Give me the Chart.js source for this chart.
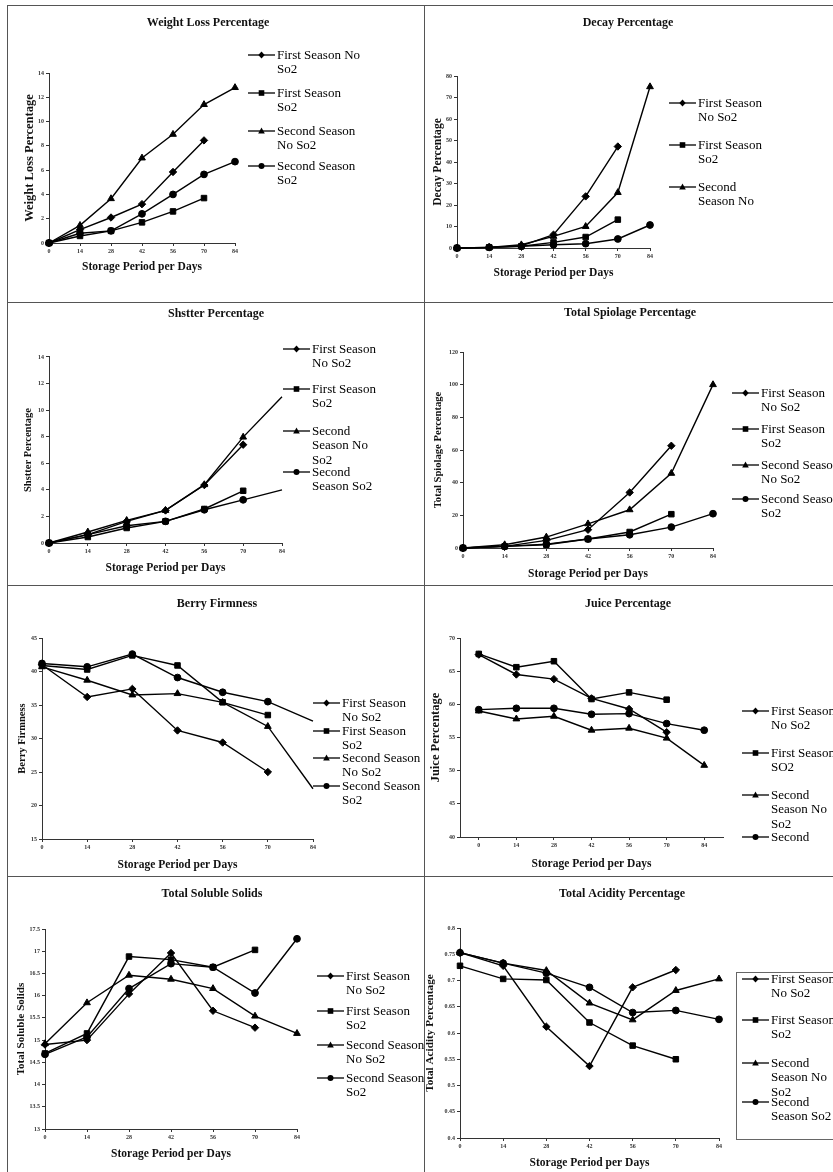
<!DOCTYPE html>
<html>
<head>
<meta charset="utf-8">
<script src="https://cdn.jsdelivr.net/npm/chart.js@4.4.1/dist/chart.umd.min.js"></script>
<style>
  html, body { margin: 0; padding: 0; background: #fff; }
  #page { position: relative; width: 833px; height: 1172px; overflow: hidden;
          font-family: "Liberation Serif", "Times New Roman", serif; }
  .panel { position: absolute; overflow: hidden; }
  .panel canvas { position: absolute; left: 0; top: 0; }
  .rule { position: absolute; background: #555; z-index: 5; }
  .lg { position: absolute; font-size: 13px; line-height: 14.5px; color: #000; white-space: nowrap; }
  .lg svg { position: absolute; left: 0; top: 2px; }
  .lg .tx { position: absolute; left: 29px; top: 0; }
  .lgbox { position: absolute; border: 1px solid #666; }
</style>
</head>
<body>
<div id="page"></div>
<script>
// storage days (x categories) and the four treatments
const DAYS = ['0', '14', '28', '42', '56', '70', '84'];
const SERIES = ['First Season No So2', 'First Season So2', 'Second Season No So2', 'Second Season So2'];
const MARKERS = ['rectRot', 'rect', 'triangle', 'circle'];

// values (first season stops at day 70)
const weightFirstNo   = [0, 1.1, 2.1, 3.2, 5.85, 8.45];
const weightFirstSo2  = [0, 0.58, 1.0, 1.7, 2.6, 3.7];
const weightSecondNo  = [0, 1.45, 3.65, 7.0, 8.95, 11.4, 12.8];
const weightSecondSo2 = [0, 0.8, 1.0, 2.4, 4.0, 5.65, 6.7];

const decayFirstNo   = [0, 0.3, 1.0, 6.2, 24, 47.2];
const decayFirstSo2  = [0, 0.3, 0.8, 2.6, 5.1, 13.2];
const decaySecondNo  = [0, 0.3, 1.5, 5.4, 10, 25.8, 75];
const decaySecondSo2 = [0, 0.3, 0.8, 1.5, 2.0, 4.2, 10.7];

const shatterFirstNo   = [0, 0.63, 1.63, 2.45, 4.36, 7.4];
const shatterFirstSo2  = [0, 0.45, 1.13, 1.63, 2.56, 3.93];
const shatterSecondNo  = [0, 0.83, 1.7, 2.45, 4.39, 7.97, 11.0];
const shatterSecondSo2 = [0, 0.63, 1.3, 1.63, 2.5, 3.25, 4.0];

const spoilFirstNo   = [0, 1, 4.7, 11.2, 34, 62.6];
const spoilFirstSo2  = [0, 1, 2, 5.5, 9.8, 20.7];
const spoilSecondNo  = [0, 2, 6.7, 14.8, 23.4, 45.7, 100];
const spoilSecondSo2 = [0, 1, 2.4, 5.5, 8.1, 12.8, 21];

const berryFirstNo   = [41.0, 36.2, 37.4, 31.2, 29.4, 25.0];
const berryFirstSo2  = [40.9, 40.3, 42.4, 40.9, 35.4, 33.5];
const berrySecondNo  = [40.7, 38.7, 36.5, 36.7, 35.4, 31.8, 22.5];
const berrySecondSo2 = [41.2, 40.7, 42.6, 39.1, 36.9, 35.5, 32.6];

const juiceFirstNo   = [67.5, 64.5, 63.8, 60.9, 59.3, 55.8];
const juiceFirstSo2  = [67.6, 65.6, 66.5, 60.8, 61.8, 60.7];
const juiceSecondNo  = [59.0, 57.8, 58.2, 56.1, 56.4, 54.9, 50.8];
const juiceSecondSo2 = [59.2, 59.4, 59.4, 58.5, 58.6, 57.1, 56.1];

const tssFirstNo   = [14.9, 15.0, 16.04, 16.96, 15.66, 15.28];
const tssFirstSo2  = [14.7, 15.15, 16.88, 16.81, 16.64, 17.03];
const tssSecondNo  = [14.92, 15.84, 16.46, 16.37, 16.16, 15.54, 15.15];
const tssSecondSo2 = [14.68, 15.07, 16.16, 16.72, 16.64, 16.06, 17.28];

const acidFirstNo   = [0.753, 0.728, 0.612, 0.537, 0.687, 0.72];
const acidFirstSo2  = [0.728, 0.703, 0.701, 0.62, 0.576, 0.55];
const acidSecondNo  = [0.753, 0.733, 0.719, 0.657, 0.625, 0.681, 0.703];
const acidSecondSo2 = [0.753, 0.733, 0.714, 0.687, 0.639, 0.643, 0.626];

const TWO = [['First Season', 'No So2'], ['First Season', 'So2'], ['Second Season', 'No So2'], ['Second Season', 'So2']];

// layout of each panel, page pixels
const panels = [
  { title: 'Weight Loss Percentage', yTitle: 'Weight Loss Percentage', series: [weightFirstNo, weightFirstSo2, weightSecondNo, weightSecondSo2],
    min: 0, max: 14, step: 2, box: [8, 6, 416, 296], titleX: 208, titleY: 23, plot: [49, 73, 235, 243],
    xTitleY: 267, yTitleX: 30, yTitleSize: 12.5,
    legend: { x: 248, ys: [55, 93, 131, 166], text: [['First Season No', 'So2'], ['First Season', 'So2'], ['Second Season', 'No So2'], ['Second Season', 'So2']] } },
  { title: 'Decay Percentage', yTitle: 'Decay Percentage', series: [decayFirstNo, decayFirstSo2, decaySecondNo, decaySecondSo2],
    min: 0, max: 80, step: 10, box: [425, 6, 408, 296], titleX: 628, titleY: 23, plot: [457, 76, 650, 248],
    xTitleY: 273, yTitleX: 438, yTitleSize: 11.6,
    legend: { x: 669, ys: [103, 145, 187], text: [['First Season', 'No So2'], ['First Season', 'So2'], ['Second', 'Season No']] } },
  { title: 'Shstter Percentage', yTitle: 'Shstter Percentage', series: [shatterFirstNo, shatterFirstSo2, shatterSecondNo, shatterSecondSo2],
    min: 0, max: 14, step: 2, box: [8, 303, 416, 282], titleX: 216, titleY: 314, plot: [49, 357, 282, 543],
    xTitleY: 568, yTitleX: 28, yTitleSize: 10.5, hideLast: true,
    legend: { x: 283, ys: [349, 389, 431, 472], text: [['First Season', 'No So2'], ['First Season', 'So2'], ['Second', 'Season No', 'So2'], ['Second', 'Season So2']] } },
  { title: 'Total Spiolage Percentage', yTitle: 'Total Spiolage Percentage', series: [spoilFirstNo, spoilFirstSo2, spoilSecondNo, spoilSecondSo2],
    min: 0, max: 120, step: 20, box: [425, 303, 408, 282], titleX: 630, titleY: 313, plot: [463, 352, 713, 548],
    xTitleY: 574, yTitleX: 438, yTitleSize: 10.6,
    legend: { x: 732, ys: [393, 429, 465, 499], text: TWO } },
  { title: 'Berry Firmness', yTitle: 'Berry Firmness', series: [berryFirstNo, berryFirstSo2, berrySecondNo, berrySecondSo2],
    min: 15, max: 45, step: 5, box: [8, 586, 416, 290], titleX: 217, titleY: 604, plot: [42, 638, 313, 839],
    xTitleY: 865, yTitleX: 22, yTitleSize: 10.5, hideLast: true,
    legend: { x: 313, ys: [703, 731, 758, 786], text: TWO } },
  { title: 'Juice Percentage', yTitle: 'Juice Percentage', series: [juiceFirstNo, juiceFirstSo2, juiceSecondNo, juiceSecondSo2],
    min: 40, max: 70, step: 5, offset: true, box: [425, 586, 408, 290], titleX: 628, titleY: 604, plot: [460, 638, 723, 837],
    xTitleY: 864, yTitleX: 436, yTitleSize: 12.5,
    legend: { x: 742, ys: [711, 753, 795, 837], text: [['First Season', 'No So2'], ['First Season', 'SO2'], ['Second', 'Season No', 'So2'], ['Second']] } },
  { title: 'Total Soluble Solids', yTitle: 'Total Soluble Solids', series: [tssFirstNo, tssFirstSo2, tssSecondNo, tssSecondSo2],
    min: 13, max: 17.5, step: 0.5, box: [8, 877, 416, 295], titleX: 212, titleY: 894, plot: [45, 929, 297, 1129],
    xTitleY: 1154, yTitleX: 21, yTitleSize: 11,
    legend: { x: 317, ys: [976, 1011, 1045, 1078], text: TWO } },
  { title: 'Total Acidity Percentage', yTitle: 'Total Acidity Percentage', series: [acidFirstNo, acidFirstSo2, acidSecondNo, acidSecondSo2],
    min: 0.4, max: 0.8, step: 0.05, box: [425, 877, 408, 295], titleX: 622, titleY: 894, plot: [460, 928, 719, 1138],
    xTitleY: 1163, yTitleX: 430, yTitleSize: 11.2, legendBox: [736, 972, 110, 166],
    legend: { x: 742, ys: [979, 1020, 1063, 1102], text: [['First Season', 'No So2'], ['First Season', 'So2'], ['Second', 'Season No', 'So2'], ['Second', 'Season So2']] } }
];

const FONT = "'Liberation Serif', 'Times New Roman', serif";
const RADII = [3.7, 3.9, 3.9, 3.4];
Chart.defaults.font.family = FONT;
Chart.defaults.color = '#000';

const page = document.getElementById('page');

function rule(x, y, w, h) {
  const d = document.createElement('div');
  d.className = 'rule';
  Object.assign(d.style, { left: x + 'px', top: y + 'px', width: w + 'px', height: h + 'px' });
  page.appendChild(d);
}

function symbol(style) {
  let shape;
  if (style === 'rectRot') shape = '<polygon points="13.5,1.5 16.7,5 13.5,8.5 10.3,5"/>';
  else if (style === 'rect') shape = '<rect x="10.7" y="2.2" width="5.6" height="5.6"/>';
  else if (style === 'triangle') shape = '<polygon points="13.5,1.5 16.8,7.6 10.2,7.6"/>';
  else shape = '<circle cx="13.5" cy="5" r="3"/>';
  return '<svg width="27" height="10" viewBox="0 0 27 10"><line x1="0" y1="5" x2="27" y2="5" stroke="#000" stroke-width="1.3"/>' +
    '<g fill="#000">' + shape + '</g></svg>';
}

const tickText = v => String(+Number(v).toFixed(3));

panels.forEach(p => {
  const [bx, by, bw, bh] = p.box;
  const div = document.createElement('div');
  div.className = 'panel';
  Object.assign(div.style, { left: bx + 'px', top: by + 'px', width: bw + 'px', height: bh + 'px' });
  page.appendChild(div);

  const cw = Math.round(2 * (p.titleX - bx));
  const ch = Math.ceil(p.xTitleY + 9 - by);
  const canvas = document.createElement('canvas');
  canvas.width = cw;
  canvas.height = ch;
  div.appendChild(canvas);

  const L = p.plot[0] - bx, T = p.plot[1] - by, R = p.plot[2] - bx, B = p.plot[3] - by;
  const xLh = 11.5 * 1.2;
  const yLh = p.yTitleSize * 1.2;

  const datasets = p.series.map((vals, k) => ({
    label: SERIES[k],
    data: vals,
    borderColor: '#000',
    backgroundColor: '#000',
    borderWidth: 1.4,
    pointStyle: MARKERS[k],
    pointBackgroundColor: '#000',
    pointBorderColor: '#000',
    pointBorderWidth: 1,
    pointRadius: c => (p.hideLast && c.dataIndex === 6) ? 0 : RADII[k],
    tension: 0,
    clip: false
  }));

  new Chart(canvas, {
    type: 'line',
    data: { labels: DAYS, datasets: datasets },
    options: {
      responsive: false,
      animation: false,
      devicePixelRatio: 1,
      layout: { padding: 0 },
      plugins: {
        legend: { display: false },
        tooltip: { enabled: false },
        title: {
          display: true,
          text: p.title,
          color: '#111',
          font: { size: 12, weight: 'bold', family: FONT },
          padding: { top: p.titleY - by - 7.2, bottom: T - (p.titleY - by) - 7.2 }
        }
      },
      scales: {
        x: {
          type: 'category',
          offset: !!p.offset,
          grid: { display: true, drawOnChartArea: false, drawTicks: true, tickLength: 3, color: '#333' },
          border: { color: '#333', width: 1 },
          ticks: { font: { size: 6, weight: 'bold' }, color: '#333', padding: 2, maxRotation: 0, autoSkip: false },
          title: {
            display: true,
            text: 'Storage Period per Days',
            font: { size: 11.5, weight: 'bold', family: FONT },
            color: '#111',
            padding: { top: 0, bottom: ch - (p.xTitleY - by) - xLh / 2 }
          },
          afterFit: s => { s.height = ch - B; }
        },
        y: {
          type: 'linear',
          min: p.min,
          max: p.max,
          grid: { display: true, drawOnChartArea: false, drawTicks: true, tickLength: 3, color: '#333' },
          border: { color: '#333', width: 1 },
          ticks: { stepSize: p.step, font: { size: 6, weight: 'bold' }, color: '#333', padding: 2, callback: tickText },
          title: {
            display: true,
            text: p.yTitle,
            font: { size: p.yTitleSize, weight: 'bold', family: FONT },
            color: '#111',
            padding: { top: p.yTitleX - bx - yLh / 2, bottom: 0 }
          },
          afterFit: s => { s.width = L; }
        },
        yR: {
          type: 'linear',
          position: 'right',
          display: true,
          grid: { display: false },
          border: { display: false },
          ticks: { display: false },
          afterFit: s => { s.width = cw - R; }
        }
      }
    }
  });

  if (p.legendBox) {
    const lb = document.createElement('div');
    lb.className = 'lgbox';
    Object.assign(lb.style, { left: (p.legendBox[0] - bx) + 'px', top: (p.legendBox[1] - by) + 'px',
      width: p.legendBox[2] + 'px', height: p.legendBox[3] + 'px' });
    div.appendChild(lb);
  }

  p.legend.text.forEach((lines, k) => {
    const item = document.createElement('div');
    item.className = 'lg';
    item.style.left = (p.legend.x - bx) + 'px';
    item.style.top = (p.legend.ys[k] - by - 7.25) + 'px';
    item.innerHTML = symbol(MARKERS[k]) + '<div class="tx">' + lines.join('<br>') + '</div>';
    div.appendChild(item);
  });
});

// panel frame lines
rule(7, 5, 826, 1);
rule(7, 5, 1, 1167);
rule(424, 5, 1, 1167);
rule(7, 302, 826, 1);
rule(7, 585, 826, 1);
rule(7, 876, 826, 1);
</script>
</body>
</html>
